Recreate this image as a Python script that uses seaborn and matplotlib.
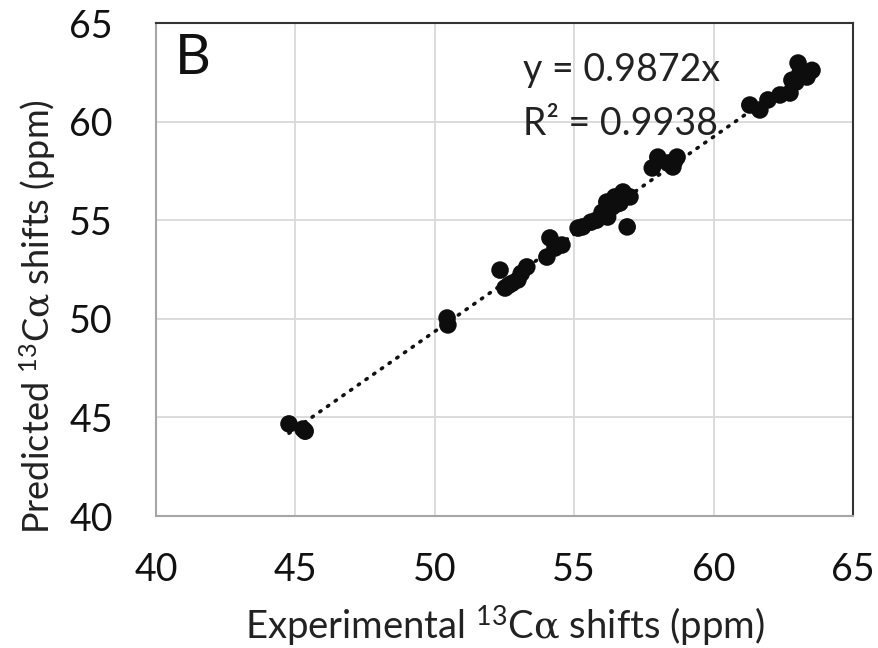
import matplotlib
matplotlib.use("Agg")
import matplotlib.pyplot as plt
import seaborn as sns
import numpy as np
import pandas as pd

# Data
experimental = [44.77, 45.27, 45.35, 50.44, 50.47, 52.34, 52.52, 52.77, 53.30, 52.98,
                52.65, 53.10, 54.13, 54.02, 54.56, 54.31, 55.14, 55.30, 55.80, 56.20,
                56.17, 56.46, 56.75, 57.00, 56.90, 56.36, 56.64, 55.60, 56.00, 56.50,
                57.80, 58.00, 58.36, 58.69, 58.54, 58.60, 61.30, 61.66, 61.95, 62.38,
                62.74, 62.81, 63.03, 63.10, 63.53, 63.35, 63.20, 62.95]
predicted = [44.67, 44.41, 44.30, 50.04, 49.69, 52.47, 51.56, 51.80, 52.63, 51.97,
             51.70, 52.30, 54.10, 53.13, 53.74, 53.59, 54.60, 54.66, 55.00, 55.16,
             55.92, 56.18, 56.43, 56.18, 54.66, 55.67, 55.87, 54.90, 55.40, 55.80,
             57.65, 58.20, 57.90, 58.20, 57.70, 58.00, 60.84, 60.59, 61.10, 61.35,
             61.45, 62.10, 62.97, 62.46, 62.60, 62.26, 62.30, 62.00]
slope = 0.9872
r2 = 0.9938
x_ticks = [40, 45, 50, 55, 60, 65]
y_ticks = [40, 45, 50, 55, 60, 65]

df = pd.DataFrame({"exp": experimental, "pred": predicted})

sns.set_theme(style="white")
plt.rcParams["font.family"] = ["Lato", "DejaVu Sans"]
plt.rcParams["mathtext.fontset"] = "custom"
plt.rcParams["mathtext.rm"] = "Lato"
plt.rcParams["mathtext.it"] = "DejaVu Serif"
plt.rcParams["mathtext.fallback"] = "stix"

fig = plt.figure(figsize=(8.79, 6.48), dpi=100)
ax = fig.add_axes([0.1775, 0.2037, 0.7929, 0.7608])

ax.grid(True, color="#d9d9d9", linewidth=1.3, zorder=0)
ax.set_axisbelow(True)

# trend line through origin
xs = np.array([min(experimental), max(experimental)])
sns.lineplot(x=xs, y=slope * xs, ax=ax, color="#111111", linewidth=2.6,
             linestyle=(0, (0.4, 2.2)), dash_capstyle="round", zorder=3)

sns.scatterplot(data=df, x="exp", y="pred", ax=ax, s=160, color="#0d0d0d",
                edgecolor="none", linewidth=0, zorder=4)

ax.set_xlim(40, 65)
ax.set_ylim(40, 65)
ax.set_xticks(x_ticks)
ax.set_yticks(y_ticks)
ax.tick_params(axis="x", labelsize=27, length=0, pad=26, colors="#111111")
ax.tick_params(axis="y", labelsize=27, length=0, pad=31, colors="#111111")

ax.set_xlabel(r"Experimental $^{\mathregular{13}}$C$\alpha$ shifts (ppm)",
              fontsize=27.5, color="#222222", labelpad=11)
ax.set_ylabel(r"Predicted $^{\mathregular{13}}$C$\alpha$ shifts (ppm)",
              fontsize=26, color="#222222")
ax.yaxis.set_label_coords(-0.141, 0.404)

for side in ["left", "bottom"]:
    ax.spines[side].set_color("#a6a6a6")
    ax.spines[side].set_linewidth(1.5)
for side in ["top", "right"]:
    ax.spines[side].set_color("#333333")
    ax.spines[side].set_linewidth(1.5)

ax.text(0.027, 0.98, "B", transform=ax.transAxes, fontsize=40, va="top", ha="left",
        color="#111111")
ax.text(0.527, 0.905, f"y = {slope}x", transform=ax.transAxes, fontsize=27,
        va="center", ha="left", color="#222222")
ax.text(0.527, 0.795, f"R² = {r2}", transform=ax.transAxes, fontsize=27,
        va="center", ha="left", color="#222222")

fig.savefig("out.png", dpi=100)
